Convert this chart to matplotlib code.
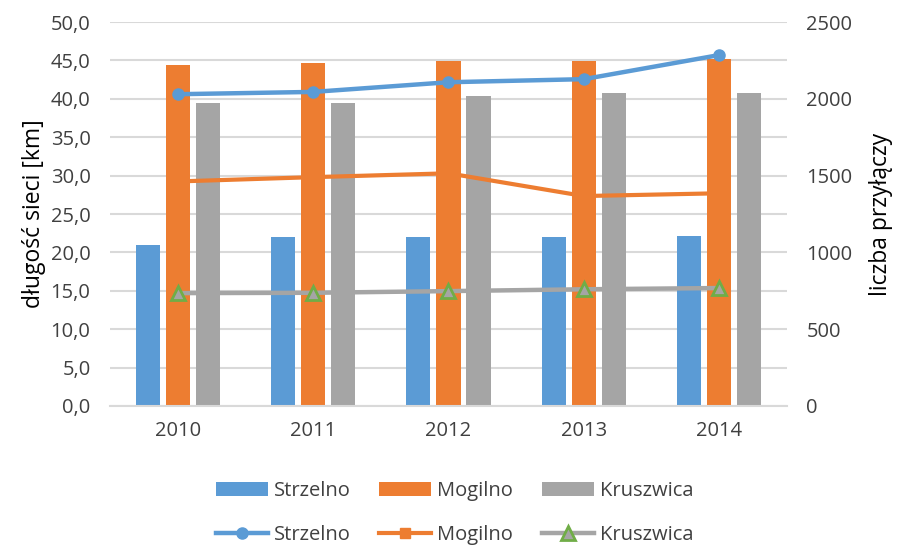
import numpy as np
import matplotlib
matplotlib.use("Agg")
import matplotlib.pyplot as plt
from matplotlib.ticker import FuncFormatter

plt.rcParams['font.family'] = ['Open Sans', 'DejaVu Sans']

years = ["2010", "2011", "2012", "2013", "2014"]
series = ["Strzelno", "Mogilno", "Kruszwica"]

# dlugosc sieci [km] - slupki
km_strzelno = [21.0, 22.0, 22.0, 22.0, 22.2]
km_mogilno = [44.4, 44.6, 44.9, 44.9, 45.2]
km_kruszwica = [39.4, 39.4, 40.4, 40.7, 40.7]

# liczba przylaczy - linie
n_strzelno = [2030, 2045, 2108, 2128, 2285]
n_mogilno = [1462, 1490, 1515, 1367, 1385]
n_kruszwica = [735, 737, 748, 760, 768]

blue = "#5b9bd5"
orange = "#ed7d31"
gray = "#a5a5a5"
green = "#70ad47"
txt = "#404040"

fig = plt.figure(figsize=(9, 5.52), dpi=100)
ax = fig.add_axes([0.1222, 0.2645, 0.7522, 0.6956])
ax2 = ax.twinx()

x = np.arange(len(years))
w = 0.178
off = 0.222
ax.bar(x - off, km_strzelno, w, color=blue, label=series[0], zorder=2)
ax.bar(x, km_mogilno, w, color=orange, label=series[1], zorder=2)
ax.bar(x + off, km_kruszwica, w, color=gray, label=series[2], zorder=2)

ax2.plot(x, n_strzelno, color=blue, lw=3.2, marker="o", ms=8, label=series[0])
ax2.plot(x, n_mogilno, color=orange, lw=3.0, marker="s", ms=7, label=series[1])
ax2.plot(x, n_kruszwica, color=gray, lw=3.2, marker="^", ms=10,
         mfc=gray, mec=green, mew=2, label=series[2])

ax.set_xlim(-0.5, 4.5)
ax.set_ylim(0, 50)
ax.set_yticks(np.arange(0, 50.1, 5))
ax.yaxis.set_major_formatter(FuncFormatter(lambda v, p: f"{v:.1f}".replace(".", ",")))
ax2.set_ylim(0, 2500)
ax2.set_yticks(np.arange(0, 2501, 500))
ax.set_xticks(x)
ax.set_xticklabels(years)

ax.grid(axis="y", color="#d9d9d9", lw=1.5, zorder=0)
ax.set_axisbelow(True)
for a in (ax, ax2):
    for s in a.spines.values():
        s.set_visible(False)
    a.tick_params(length=0, labelsize=14.5, colors=txt)
ax.tick_params(axis="y", pad=14)
ax2.tick_params(axis="y", pad=14)
ax.tick_params(axis="x", pad=11)
ax.spines["bottom"].set_visible(True)
ax.spines["bottom"].set_color("#d9d9d9")
ax.spines["bottom"].set_linewidth(1.5)

ax.set_ylabel("długość sieci [km]", fontsize=16.5, color="black", labelpad=3)
ax2.set_ylabel("liczba przyłączy", fontsize=16.5, color="black", labelpad=12)

h1, l1 = ax.get_legend_handles_labels()
h2, l2 = ax2.get_legend_handles_labels()
leg_kw = dict(ncol=3, frameon=False, fontsize=14.5, handlelength=2.6,
              handletextpad=0.3, columnspacing=1.4, labelcolor=txt)
fig.legend(h1, l1, loc="center", bbox_to_anchor=(0.505, 0.11), **leg_kw)
fig.legend(h2, l2, loc="center", bbox_to_anchor=(0.505, 0.03), **leg_kw)

fig.savefig("out.png", dpi=100)
